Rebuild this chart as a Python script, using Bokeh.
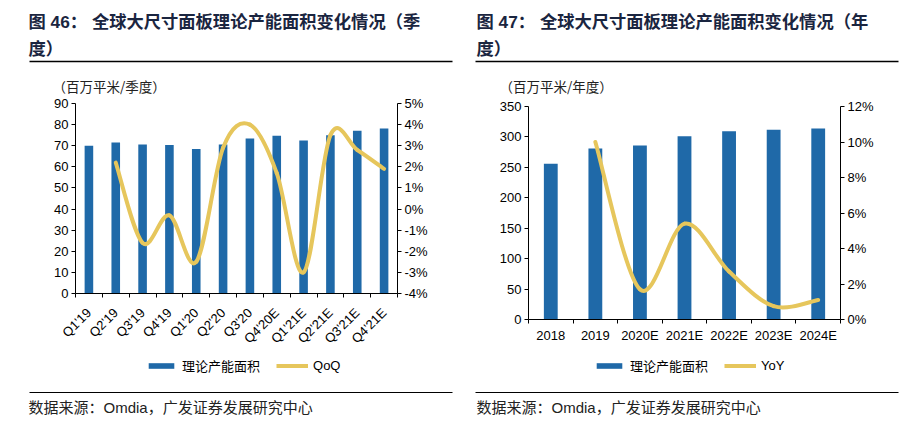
import math
from bokeh.plotting import figure
from bokeh.models import Range1d, LinearAxis, FixedTicker, Label, Legend, LegendItem
from bokeh.layouts import row, column
from bokeh.embed import file_html
from bokeh.resources import INLINE

# ---------------- data ----------------
quarters = ["Q1'19", "Q2'19", "Q3'19", "Q4'19", "Q1'20", "Q2'20", "Q3'20",
            "Q4'20E", "Q1'21E", "Q2'21E", "Q3'21E", "Q4'21E"]
quarter_area = [70.0, 71.5, 70.6, 70.3, 68.5, 70.6, 73.4, 74.7, 72.5, 75.0, 77.1, 78.2]
quarter_qoq = [None, 2.2, -1.6, -0.3, -2.5, 2.9, 4.0, 1.7, -3.0, 3.5, 2.8, 1.9]

years = ["2018", "2019", "2020E", "2021E", "2022E", "2023E", "2024E"]
year_area = [256, 281, 286, 301, 309.5, 311.7, 313.9]
year_yoy = [None, 10.0, 1.7, 5.4, 2.7, 0.75, 1.1]

quarter_ticks = [0, 10, 20, 30, 40, 50, 60, 70, 80, 90]
qoq_ticks = [-4, -3, -2, -1, 0, 1, 2, 3, 4, 5]
year_ticks = [0, 50, 100, 150, 200, 250, 300, 350]
yoy_ticks = [0, 2, 4, 6, 8, 10, 12]

BLUE = "#1F69A8"
GOLD = "#E6C65C"
NAVY = "#1A2540"
LATIN = "Liberation Sans"
MIXED = "Liberation Sans, Noto Sans CJK SC"
W = 461


def smooth_segments(xs, ys):
    n = len(xs)
    out = {k: [] for k in ("x0", "y0", "x1", "y1", "cx0", "cy0", "cx1", "cy1")}
    for i in range(n - 1):
        a = max(i - 1, 0)
        d = min(i + 2, n - 1)
        out["x0"].append(xs[i]); out["y0"].append(ys[i])
        out["x1"].append(xs[i + 1]); out["y1"].append(ys[i + 1])
        out["cx0"].append(xs[i] + (xs[i + 1] - xs[a]) / 6)
        out["cy0"].append(ys[i] + (ys[i + 1] - ys[a]) / 6)
        out["cx1"].append(xs[i + 1] - (xs[d] - xs[i]) / 6)
        out["cy1"].append(ys[i + 1] - (ys[d] - ys[i]) / 6)
    return out


def series_xy(area, pct):
    xs = [i + 0.5 for i in range(len(area))]
    px = [x for x, v in zip(xs, pct) if v is not None]
    py = [v for v in pct if v is not None]
    return xs, px, py


def blank(h):
    f = figure(width=W, height=h, output_backend="svg", toolbar_location=None,
               x_range=Range1d(0, W), y_range=Range1d(h, 0),
               x_axis_type=None, y_axis_type=None, frame_align=False,
               min_border=0, min_border_left=0, min_border_right=0,
               min_border_top=0, min_border_bottom=0)
    f.outline_line_color = None
    f.background_fill_color = "white"
    f.border_fill_color = "white"
    return f


def make_header(h, tx, t1, t2, rule, unit, ux, uy):
    f = blank(h)
    for txt, yy in ((t1, 21), (t2, 48)):
        f.add_layout(Label(x=tx, y=yy, text=txt, text_font=MIXED, text_font_size="17.3px",
                           text_font_style="bold", text_color=NAVY,
                           text_baseline="middle", text_align="left"))
    f.segment(x0=[rule[0]], y0=[61], x1=[rule[1]], y1=[61], line_color="black",
              line_width=1.3)
    f.add_layout(Label(x=ux, y=uy, text=unit, text_font="Noto Sans CJK SC",
                       text_font_size="13.5px", text_color="#222222",
                       text_baseline="middle"))
    return f


def make_footer(h, top, tx, rule, area, pct, pct_name, leg_x):
    f = blank(h)
    xs, px, py = series_xy(area, pct)
    # legend proxies (hidden renderers carrying the series, used only for the key)
    bar_r = f.vbar(x=xs, top=area, width=0.3, fill_color=BLUE, line_color=None,
                   visible=False)
    line_r = f.line(x=px, y=py, line_color=GOLD, line_width=4, visible=False)
    legend = Legend(items=[LegendItem(label="理论产能面积", renderers=[bar_r]),
                           LegendItem(label=pct_name, renderers=[line_r])],
                    location=(leg_x, h - (367 - top) - 8), orientation="horizontal",
                    glyph_width=32, glyph_height=7, label_standoff=5, spacing=16,
                    label_height=16, padding=0, margin=0, border_line_color=None,
                    background_fill_alpha=0, label_text_font=MIXED,
                    label_text_font_size="13px", label_text_color="black",
                    label_text_baseline="middle", inactive_fill_alpha=0)
    f.add_layout(legend)
    f.segment(x0=[rule[0]], y0=[392 - top], x1=[rule[1]], y1=[392 - top],
              line_color="black", line_width=1.2)
    f.add_layout(Label(x=tx, y=407 - top, text="数据来源：Omdia，广发证券发展研究中心",
                       text_font=MIXED, text_font_size="15px", text_color="#222222",
                       text_baseline="middle"))
    return f


def make_chart(cats, area, pct, area_ticks, pct_ticks, rot, bar_w, borders, std):
    n = len(cats)
    bl, br, bt, bb, fh = borders
    p = figure(width=W, height=bt + fh + bb, output_backend="svg", toolbar_location=None,
               x_range=Range1d(0, n), y_range=Range1d(area_ticks[0], area_ticks[-1]),
               x_axis_type=None, y_axis_type=None, frame_align=False,
               min_border_left=bl, min_border_right=br,
               min_border_top=bt, min_border_bottom=bb)
    p.outline_line_color = None
    p.background_fill_color = "white"
    p.border_fill_color = "white"
    p.extra_y_ranges = {"pct": Range1d(pct_ticks[0], pct_ticks[-1])}

    xs, px, py = series_xy(area, pct)
    p.vbar(x=xs, top=area, bottom=0, width=bar_w, fill_color=BLUE, line_color=None)
    p.bezier(line_color=GOLD, line_width=4, line_cap="round", y_range_name="pct",
             **smooth_segments(px, py))

    def style(ax):
        ax.axis_line_color = "black"
        ax.axis_line_width = 1
        ax.major_tick_line_color = "black"
        ax.major_tick_in = 0
        ax.major_tick_out = 4
        ax.minor_tick_line_color = None
        ax.major_label_text_font = LATIN
        ax.major_label_text_font_size = "13px"
        ax.major_label_text_color = "black"

    ly = LinearAxis(ticker=FixedTicker(ticks=area_ticks))
    style(ly); ly.major_label_standoff = 3
    p.add_layout(ly, "left")

    ry = LinearAxis(y_range_name="pct", ticker=FixedTicker(ticks=pct_ticks),
                    major_label_overrides={t: f"{t}%" for t in pct_ticks})
    style(ry); ry.major_label_standoff = 3
    p.add_layout(ry, "right")

    bounds = list(range(n + 1))
    bx = LinearAxis(ticker=FixedTicker(ticks=bounds),
                    major_label_overrides={b: "" for b in bounds})
    style(bx); bx.major_label_standoff = 0
    p.add_layout(bx, "below")

    lx = LinearAxis(ticker=FixedTicker(ticks=xs),
                    major_label_overrides={x: c for x, c in zip(xs, cats)})
    style(lx)
    lx.axis_line_color = None
    lx.major_tick_line_color = None
    lx.major_tick_out = 0
    lx.major_label_standoff = std
    if rot:
        lx.major_label_orientation = rot
    p.add_layout(lx, "below")
    return p


# left panel: header 0..95, chart 95..357 (frame 103..293), footer 357..423
h1 = make_header(95, 28, "图  46： 全球大尺寸面板理论产能面积变化情况（季", "度）",
                 (29, 452), "（百万平米/季度）", 52, 85)
c1 = make_chart(quarters, quarter_area, quarter_qoq, quarter_ticks, qoq_ticks,
                math.pi / 4, 0.32, (75, 64, 8, 64, 190), 13)
f1 = make_footer(66, 357, 28, (29, 452), quarter_area, quarter_qoq, "QoQ", 145)

# right panel: header 0..98, chart 98..349 (frame 106..319), footer 349..423
h2 = make_header(98, 15, "图  47： 全球大尺寸面板理论产能面积变化情况（年", "度）",
                 (14, 437), "（百万平米/年度）", 38, 85)
c2 = make_chart(years, year_area, year_yoy, year_ticks, yoy_ticks,
                0, 0.31, (67, 82, 8, 30, 213), 4)
f2 = make_footer(74, 349, 15, (14, 437), year_area, year_yoy, "YoY", 132)

layout = row(column(h1, c1, f1, spacing=0), column(h2, c2, f2, spacing=0), spacing=0)
open("out.html", "w").write(file_html(layout, INLINE))
